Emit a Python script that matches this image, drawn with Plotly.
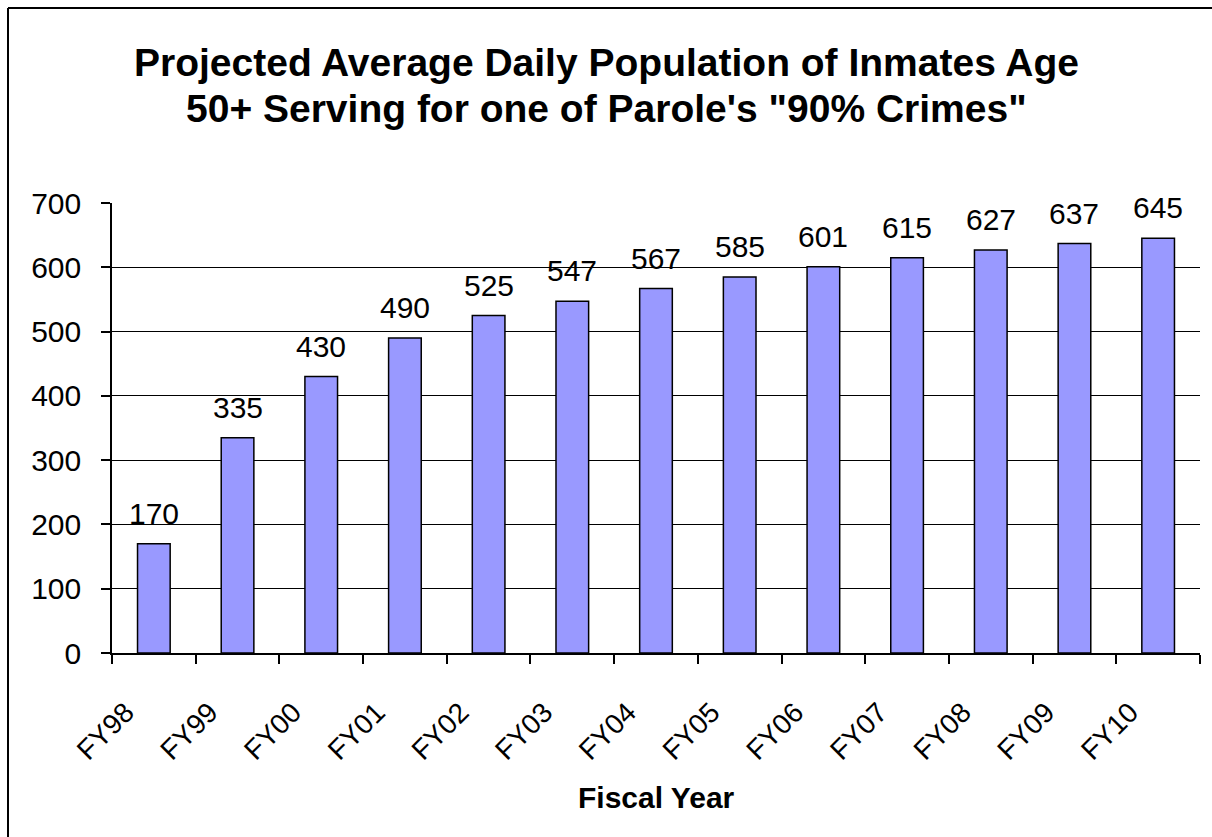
import plotly.graph_objects as go

categories = ["FY98", "FY99", "FY00", "FY01", "FY02", "FY03", "FY04",
              "FY05", "FY06", "FY07", "FY08", "FY09", "FY10"]
values = [170, 335, 430, 490, 525, 547, 567, 585, 601, 615, 627, 637, 645]
y_ticks = [0, 100, 200, 300, 400, 500, 600, 700]
grid_vals = [100, 200, 300, 400, 500, 600]

title_lines = ["Projected Average Daily Population of Inmates Age",
               "50+ Serving for one of Parole's \"90% Crimes\""]
x_title = "Fiscal Year"

FONT = "Liberation Sans, Arial, Helvetica, sans-serif"

W, H = 1212, 837
L, R, T, B = 112, 12, 203, 184
pw = W - L - R
ph = H - T - B

fig = go.Figure()
fig.add_trace(go.Bar(
    x=categories, y=values,
    marker=dict(color="#9999FF", line=dict(color="black", width=1.5)),
    width=0.39,
    hoverinfo="x+y",
))

annotations = []
for c, v in zip(categories, values):
    annotations.append(dict(x=c, y=v, xref="x", yref="y", text=str(v),
                            showarrow=False, yanchor="bottom", yshift=12,
                            font=dict(family=FONT, size=30, color="black")))

# title lines
title_y_px = [62, 108]
for line, ypx in zip(title_lines, title_y_px):
    annotations.append(dict(x=(606 - L) / pw, y=(H - B - ypx) / ph,
                            xref="paper", yref="paper", text="<b>" + line + "</b>",
                            showarrow=False, xanchor="center", yanchor="middle",
                            font=dict(family=FONT, size=39, color="black")))

annotations.append(dict(x=0.5, y=(H - B - 797) / ph, xref="paper", yref="paper",
                        text="<b>" + x_title + "</b>", showarrow=False,
                        xanchor="center", yanchor="middle",
                        font=dict(family=FONT, size=30, color="black")))

shapes = [
    # outer chart border (top and left visible)
    dict(type="line", xref="paper", yref="paper",
         x0=(8 - L) / pw, x1=(1300 - L) / pw,
         y0=(H - B - 8) / ph, y1=(H - B - 8) / ph,
         line=dict(color="black", width=2)),
    dict(type="line", xref="paper", yref="paper",
         x0=(8 - L) / pw, x1=(8 - L) / pw,
         y0=(H - B - 8) / ph, y1=(H - B - 900) / ph,
         line=dict(color="black", width=2)),
]

fig.update_layout(
    width=W, height=H,
    margin=dict(l=L, r=R, t=T, b=B, pad=0),
    paper_bgcolor="white", plot_bgcolor="white",
    showlegend=False,
    bargap=0.6,
    font=dict(family=FONT, color="black"),
    annotations=annotations,
    shapes=shapes,
)

fig.update_xaxes(
    type="category",
    showline=True, linecolor="black", linewidth=1.5,
    ticks="outside", ticklen=9, tickwidth=1.5, tickcolor="black",
    tickson="boundaries",
    tickangle=-45,
    tickfont=dict(family=FONT, size=28, color="black"),
    ticklabelstandoff=30, ticklabelshift=-28,
    showgrid=False,
)
fig.update_yaxes(
    range=[0, 700],
    tickvals=y_ticks,
    showline=True, linecolor="black", linewidth=1.5,
    ticks="outside", ticklen=9, tickwidth=1.5, tickcolor="black",
    tickfont=dict(family=FONT, size=30, color="black"),
    ticklabelstandoff=14,
    showgrid=False,
    zeroline=False,
    minor=dict(tickvals=grid_vals, showgrid=True, gridcolor="black",
               gridwidth=1.3, ticks=""),
)

fig.write_html("out.html")
